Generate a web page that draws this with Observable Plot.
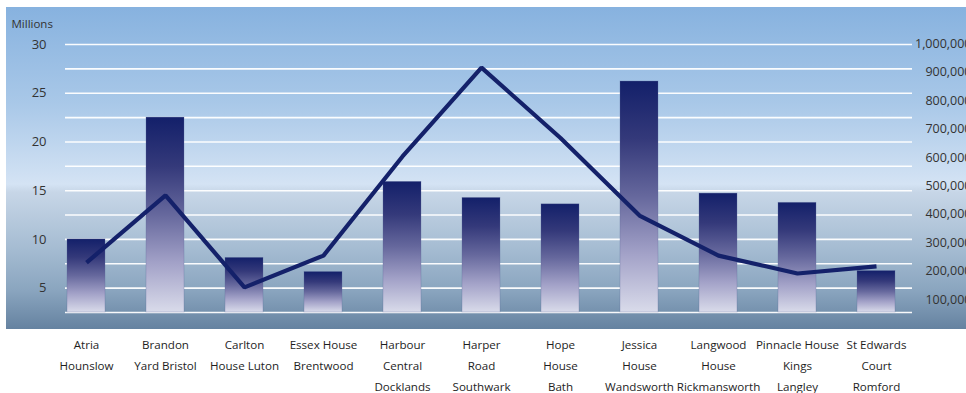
<!DOCTYPE html>
<html><head><meta charset="utf-8">
<script src="https://cdn.jsdelivr.net/npm/d3@7"></script>
<script src="https://cdn.jsdelivr.net/npm/@observablehq/plot@0.6"></script>
<style>
html,body{margin:0;padding:0;background:#fff;overflow:hidden;}
#wrap{position:relative;width:966px;height:393px;}
#panel{position:absolute;left:6px;top:7px;width:960px;height:322px;
  background:linear-gradient(to bottom,#87b2df 0%,#a9c8e8 30%,#d4e3f4 55%,#c7d6e7 57.5%,#a5bcd2 75%,#8aa5bf 88%,#6582a0 100%);}
#chart{position:absolute;left:0;top:0;}
</style></head><body>
<div id="wrap"><div id="panel"></div><div id="chart"></div></div>
<script>
// Categories (property names) and their two-/three-line tick labels
const properties = ["Atria Hounslow","Brandon Yard Bristol","Carlton House Luton","Essex House Brentwood","Harbour Central Docklands","Harper Road Southwark","Hope House Bath","Jessica House Wandsworth","Langwood House Rickmansworth","Pinnacle House Kings Langley","St Edwards Court Romford"];
const tickLabels = ["Atria\nHounslow","Brandon\nYard Bristol","Carlton\nHouse Luton","Essex House\nBrentwood","Harbour\nCentral\nDocklands","Harper\nRoad\nSouthwark","Hope\nHouse\nBath","Jessica\nHouse\nWandsworth","Langwood\nHouse\nRickmansworth","Pinnacle House\nKings\nLangley","St Edwards\nCourt\nRomford"];
// Bar series (left axis, millions)
const valueMillions = [10.0, 22.5, 8.1, 6.65, 15.9, 14.25, 13.6, 26.2, 14.7, 13.75, 6.75];
// Line series (right axis)
const lineValues = [230000, 467000, 143000, 255000, 604000, 917000, 669000, 396000, 255000, 192000, 217000];
// Axis ticks
const leftTicks = [5, 10, 15, 20, 25, 30];
const gridValues = [2.5, 5, 7.5, 10, 12.5, 15, 17.5, 20, 22.5, 25, 27.5, 30];
const rightTicks = [100000, 200000, 300000, 400000, 500000, 600000, 700000, 800000, 900000, 1000000];

const data = properties.map((p, i) => ({name: p, label: tickLabels[i], value: valueMillions[i], line: lineValues[i]}));

// secondary (right) axis expressed on the primary scale
const right = d3.scaleLinear().domain([0, 1000000]).range([0.91, 30.05]);

const ink = "#14216a";
const plot = Plot.plot({
  width: 966,
  height: 393,
  marginLeft: 45,
  marginRight: 49,
  marginTop: 44,
  marginBottom: 81,
  style: {background: "transparent", fontFamily: "'Open Sans', sans-serif", fontSize: "12px", color: "#333"},
  x: {domain: properties, axis: null, paddingInner: 0.52, paddingOuter: 0.26},
  y: {domain: [2.5, 30], axis: null},
  marks: [
    Plot.ruleY(gridValues, {stroke: "#ffffff", strokeWidth: 1.6, strokeOpacity: 0.95, insetLeft: 20, insetRight: 5}),
    Plot.barY(data, {x: "name", y1: 2.5, y2: "value", fill: "url(#barGrad)", stroke: "#5a6598", strokeOpacity: 0.35, strokeWidth: 0.8}),
    Plot.line(data, {x: "name", y: d => right(d.line), stroke: ink, strokeWidth: 4.2, strokeLinejoin: "miter", strokeLinecap: "butt"}),
    Plot.axisY(leftTicks, {anchor: "left", tickSize: 0, dx: 10, label: null, fontSize: 13, fill: "#333"}),
    Plot.text(rightTicks, {y: d => right(d), text: d => d3.format(",")(d), frameAnchor: "right", textAnchor: "end", dx: 54, fontSize: 12.5, fill: "#333"}),
    Plot.text(["Millions"], {frameAnchor: "top-left", textAnchor: "start", dx: -34, dy: -25, fontSize: 11.5, fill: "#333"}),
    Plot.text(data, {x: "name", text: "label", frameAnchor: "bottom", lineAnchor: "top", dy: 22, lineHeight: 1.8, fontSize: 11.6, fill: "#1e1e1e"})
  ]
});

const svg = d3.select(plot);
const grad = svg.insert("defs", ":first-child").append("linearGradient")
  .attr("id", "barGrad").attr("x1", 0).attr("y1", 0).attr("x2", 0).attr("y2", 1);
[[0, "#13206a"], [0.25, "#34397a"], [0.5, "#66689d"], [0.75, "#a3a2c8"], [1, "#d9dbea"]]
  .forEach(([o, c]) => grad.append("stop").attr("offset", o).attr("stop-color", c));

document.getElementById("chart").appendChild(plot);
</script>
</body></html>
